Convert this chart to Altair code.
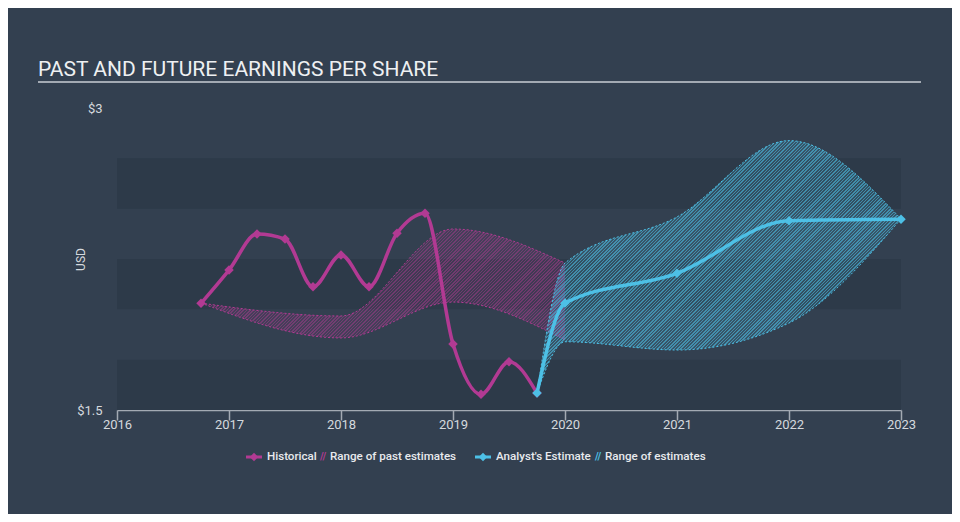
import altair as alt
import pandas as pd

# ---------------- data ----------------
hist_year = [2016.75, 2017.0, 2017.25, 2017.5, 2017.75, 2018.0, 2018.25, 2018.5, 2018.75,
             2019.0, 2019.25, 2019.5, 2019.75]
hist_eps = [2.03, 2.195, 2.374, 2.349, 2.112, 2.27, 2.112, 2.378, 2.477,
            1.828, 1.578, 1.74, 1.584]

past_year = [2016.75, 2018.0, 2019.0, 2020.0]
past_low = [2.031, 1.858, 2.036, 1.848]
past_high = [2.031, 1.967, 2.399, 2.23]

est_year = [2019.75, 2020.0, 2021.0, 2022.0, 2023.0]
est_eps = [1.584, 2.031, 2.179, 2.44, 2.447]
est_low = [1.584, 1.839, 1.798, 1.932, 2.449]
est_high = [1.584, 2.23, 2.459, 2.838, 2.449]

band_low = [1.5, 2.0, 2.5]
band_high = [1.75, 2.25, 2.75]

x_ticks = [2016, 2017, 2018, 2019, 2020, 2021, 2022, 2023]
y_ticks = [1.5, 3.0]

title_text = "PAST AND FUTURE EARNINGS PER SHARE"

# ---------------- style ----------------
BG = "#334050"
BAND = "#2d3a49"
PINK = "#b23a93"
BLUE = "#4dc0e6"
AXIS_GRAY = "#a3aab3"
LABEL = "#d5d9de"
FONT = "Roboto"
W, H = 784, 302
X0, X1 = 2016, 2023
Y0, Y1 = 1.5, 3.0
PX_PER_X = W / (X1 - X0)
PX_PER_Y = H / (Y1 - Y0)


def hatch(rgb, xs, lows, highs, period=3.3, on=0.45, a_on=0.62, a_off=0.16):
    """Diagonal hatch emulated with a hard-stop linear gradient over the area's bbox."""
    a = (max(xs) - min(xs)) * PX_PER_X
    b = (max(highs) - min(lows)) * PX_PER_Y
    r = b / a
    s = (a + b) / (a * (1 + r * r))
    n = int((a + b) / period)
    c_on = f"rgba({rgb[0]},{rgb[1]},{rgb[2]},{a_on})"
    c_off = f"rgba({rgb[0]},{rgb[1]},{rgb[2]},{a_off})"
    stops = []
    for i in range(n):
        o0 = i / n
        o1 = (i + on) / n
        o2 = (i + 1) / n
        stops += [alt.GradientStop(offset=o0, color=c_on), alt.GradientStop(offset=o1, color=c_on),
                  alt.GradientStop(offset=o1, color=c_off), alt.GradientStop(offset=o2, color=c_off)]
    return alt.LinearGradient(gradient="linear", stops=stops, x1=0, y1=0, x2=s, y2=s * r)


hist_df = pd.DataFrame({"x": hist_year, "v": hist_eps})
past_df = pd.DataFrame({"x": past_year, "lo": past_low, "hi": past_high})
est_df = pd.DataFrame({"x": est_year, "v": est_eps})
estr_df = pd.DataFrame({"x": est_year, "lo": est_low, "hi": est_high})
band_df = pd.DataFrame({"lo": band_low, "hi": band_high})

xscale = alt.Scale(domain=[X0, X1], nice=False, zero=False)
yscale = alt.Scale(domain=[Y0, Y1], nice=False, zero=False)

xaxis = alt.Axis(values=x_ticks, format="d", title=None, grid=False,
                 domainColor=AXIS_GRAY, domainWidth=1.5, tickColor=AXIS_GRAY, tickWidth=1.5,
                 tickSize=10, labelPadding=-2, labelColor=LABEL, labelFont=FONT,
                 labelFontSize=13, labelFlush=False)
yaxis = alt.Axis(values=y_ticks, labelExpr="'$' + datum.value", title="USD", grid=False,
                 domain=False, ticks=False, labelPadding=15, labelColor=LABEL,
                 labelFont=FONT, labelFontSize=13, titleColor=LABEL, titleFont=FONT,
                 titleFontSize=12, titleFontWeight="normal", titleX=-37, titleY=151,
                 titleAngle=-90, titleAlign="center", titleBaseline="middle")


def X(field="x"):
    return alt.X(f"{field}:Q", scale=xscale, axis=xaxis)


def Y(field):
    return alt.Y(f"{field}:Q", scale=yscale, axis=yaxis)


bands = alt.Chart(band_df).mark_rect(color=BAND).encode(
    x=alt.value(0), x2=alt.value(W), y=Y("lo"), y2="hi")

past_area = alt.Chart(past_df).mark_area(
    interpolate="monotone",
    color=hatch((178, 58, 147), past_year, past_low, past_high, a_on=0.5, a_off=0.14)
).encode(x=X(), y=Y("lo"), y2="hi")
past_hi = alt.Chart(past_df).mark_line(interpolate="monotone", color=PINK, strokeWidth=1,
                                       strokeDash=[2, 2]).encode(x=X(), y=Y("hi"))
past_lo = alt.Chart(past_df).mark_line(interpolate="monotone", color=PINK, strokeWidth=1,
                                       strokeDash=[2, 2]).encode(x=X(), y=Y("lo"))

est_area = alt.Chart(estr_df).mark_area(
    interpolate="monotone", color=hatch((77, 192, 230), est_year, est_low, est_high)
).encode(x=X(), y=Y("lo"), y2="hi")
est_hi = alt.Chart(estr_df).mark_line(interpolate="monotone", color=BLUE, strokeWidth=1,
                                      strokeDash=[2, 2]).encode(x=X(), y=Y("hi"))
est_lo = alt.Chart(estr_df).mark_line(interpolate="monotone", color=BLUE, strokeWidth=1,
                                      strokeDash=[2, 2]).encode(x=X(), y=Y("lo"))

hist_line = alt.Chart(hist_df).mark_line(interpolate="monotone", color=PINK, strokeWidth=3.5).encode(
    x=X(), y=Y("v"))
hist_pts = alt.Chart(hist_df).mark_point(shape="diamond", filled=True, color=PINK, size=90,
                                         opacity=1).encode(x=X(), y=Y("v"))

est_line = alt.Chart(est_df).mark_line(interpolate="monotone", color=BLUE, strokeWidth=3.5).encode(
    x=X(), y=Y("v"))
est_pts = alt.Chart(est_df).mark_point(shape="diamond", filled=True, color=BLUE, size=90,
                                       opacity=1).encode(x=X(), y=Y("v"))

one = alt.Data(values=[{"a": 1}])

title = alt.Chart(one).mark_text(text=title_text, align="left", baseline="alphabetic",
                                 font=FONT, fontSize=21, color="#eef0f2").encode(
    x=alt.value(-79), y=alt.value(-32))
underline = alt.Chart(one).mark_rule(color=AXIS_GRAY, strokeWidth=2).encode(
    x=alt.value(-79), x2=alt.value(804), y=alt.value(-26))

LY = 349


def legend_text(txt, xpos):
    return alt.Chart(one).mark_text(text=txt, align="left", baseline="middle", font=FONT,
                                    fontSize=11.6, fontWeight=500, color="#e8eaed").encode(
        x=alt.value(xpos), y=alt.value(LY))


def legend_marker(color, xc):
    bar = alt.Chart(one).mark_rule(color=color, strokeWidth=3).encode(
        x=alt.value(xc - 8), x2=alt.value(xc + 8), y=alt.value(LY))
    dia = alt.Chart(one).mark_point(shape="diamond", filled=True, color=color, size=70,
                                    opacity=1).encode(x=alt.value(xc), y=alt.value(LY))
    return [bar, dia]


def legend_hatch(color, xc):
    return alt.Chart(one).mark_text(text="//", align="center", baseline="middle", font=FONT,
                                    fontSize=10, fontWeight="bold", color=color).encode(
        x=alt.value(xc), y=alt.value(LY))


legend_layers = (legend_marker(PINK, 137) + [legend_text("Historical", 150), legend_hatch(PINK, 206),
                 legend_text("Range of past estimates", 213)] +
                 legend_marker(BLUE, 366) + [legend_text("Analyst's Estimate", 379),
                 legend_hatch(BLUE, 481), legend_text("Range of estimates", 488)])

chart = alt.layer(
    bands, past_area, past_hi, past_lo, est_area, est_hi, est_lo,
    hist_line, hist_pts, est_line, est_pts, title, underline, *legend_layers
).properties(
    width=W, height=H, background=BG,
    autosize=alt.AutoSizeParams(type="none"),
    padding={"left": 109, "top": 100, "right": 51, "bottom": 104},
).configure_view(stroke=None)

chart.save("out.html", embed_options={"renderer": "svg", "actions": False})
